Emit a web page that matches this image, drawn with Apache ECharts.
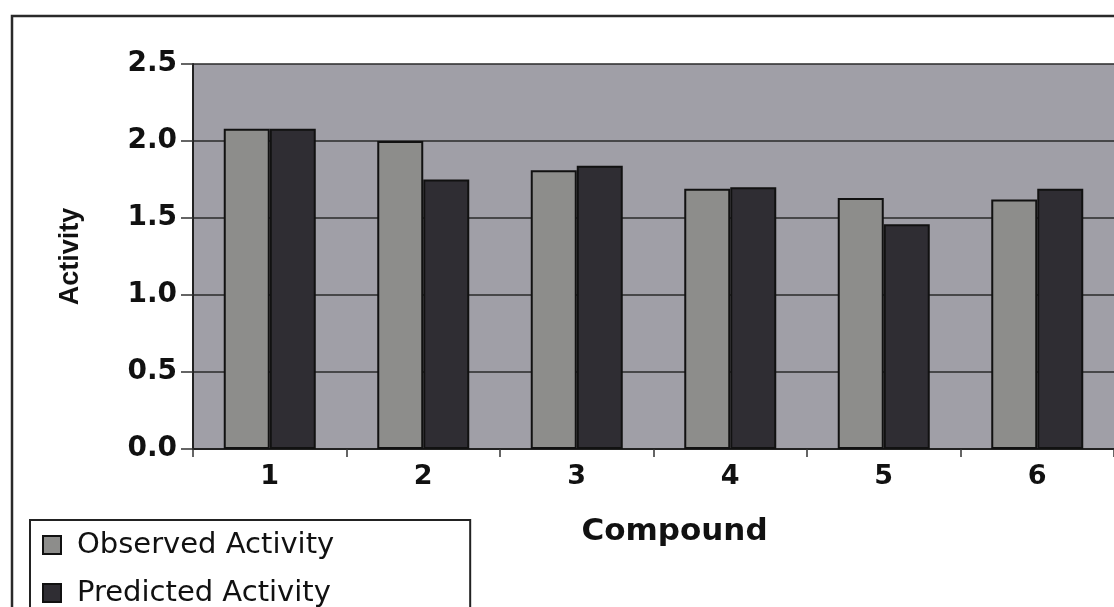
<!DOCTYPE html>
<html>
<head>
<meta charset="utf-8">
<script src="https://cdn.jsdelivr.net/npm/echarts@6/dist/echarts.min.js"></script>
<style>
html,body{margin:0;padding:0;background:#fff;}
#c{width:1114px;height:607px;}
</style>
</head>
<body>
<div id="c"></div>
<script>
const categories = ['1', '2', '3', '4', '5', '6'];
const observed = [2.08, 2.00, 1.81, 1.69, 1.63, 1.62];
const predicted = [2.08, 1.75, 1.84, 1.70, 1.46, 1.69];
const seriesNames = ['Observed Activity', 'Predicted Activity'];

const chart = echarts.init(document.getElementById('c'), null, {renderer: 'canvas'});
chart.setOption({
  animation: false,
  backgroundColor: '#ffffff',
  graphic: [{
    type: 'rect', z: -10,
    shape: {x: 12, y: 16, width: 1200, height: 700},
    style: {fill: 'none', stroke: '#2a2a2a', lineWidth: 2.5}
  }],
  grid: {
    left: 193, top: 64, bottom: 158, right: -7,
    show: true, backgroundColor: '#a09fa7', borderWidth: 0
  },
  legend: {
    orient: 'vertical', left: 30, top: 520,
    height: 120,
    padding: [5, 136, 20, 12],
    itemWidth: 18, itemHeight: 18, itemGap: 8,
    borderColor: '#222', borderWidth: 2, backgroundColor: '#fff',
    icon: 'rect',
    textStyle: {fontFamily: 'DejaVu Sans', fontSize: 29, color: '#111', lineHeight: 40, padding: [0, 0, 0, 11]},
    data: seriesNames
  },
  xAxis: {
    type: 'category', data: categories,
    name: 'Compound', nameLocation: 'middle', nameGap: 67,
    nameTextStyle: {fontFamily: 'DejaVu Sans', fontWeight: 'bold', fontSize: 31, color: '#111', padding: [0, 0, 0, 42]},
    axisLine: {lineStyle: {color: '#222', width: 2}},
    axisTick: {show: true, length: 8, lineStyle: {color: '#333', width: 1.5}},
    axisLabel: {fontFamily: 'DejaVu Sans', fontWeight: 'bold', fontSize: 27, color: '#111', margin: 14}
  },
  yAxis: {
    type: 'value', min: 0, max: 2.5, interval: 0.5,
    name: 'Activity', nameLocation: 'middle', nameGap: 109, nameRotate: 90,
    nameTextStyle: {fontFamily: 'Liberation Sans', fontWeight: 'bold', fontSize: 27, color: '#111'},
    axisLine: {show: true, lineStyle: {color: '#222', width: 2}},
    axisTick: {show: true, length: 12, lineStyle: {color: '#333', width: 1.5}},
    axisLabel: {fontFamily: 'DejaVu Sans', fontWeight: 'bold', fontSize: 28, color: '#111', margin: 16,
      formatter: v => v.toFixed(1)},
    splitLine: {show: true, lineStyle: {color: '#2a2a2a', width: 1.5}}
  },
  series: [
    {name: seriesNames[0], type: 'bar', data: observed, barWidth: 46, barGap: '0%',
     itemStyle: {color: '#8d8d8b', borderColor: '#111', borderWidth: 2}},
    {name: seriesNames[1], type: 'bar', data: predicted, barWidth: 46, barGap: '0%',
     itemStyle: {color: '#2f2d33', borderColor: '#111', borderWidth: 2}}
  ]
});
</script>
</body>
</html>
